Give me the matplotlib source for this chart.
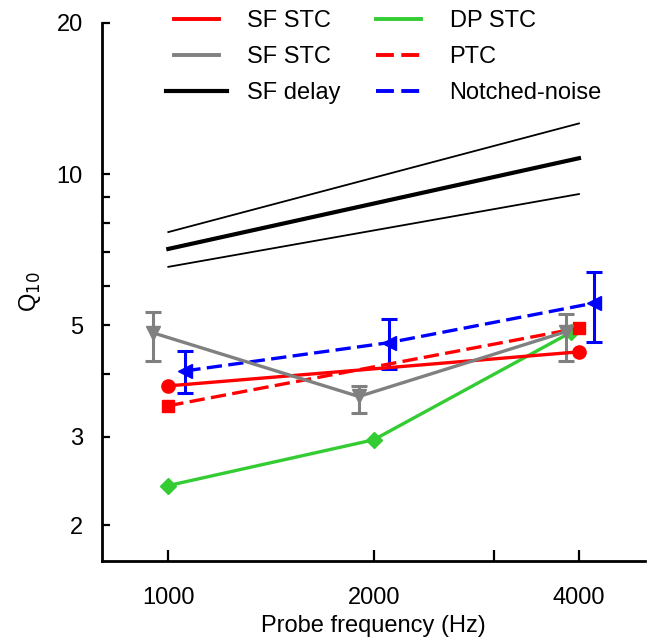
import matplotlib
matplotlib.use("Agg")
import matplotlib.pyplot as plt
from matplotlib.lines import Line2D
from matplotlib.legend_handler import HandlerLine2D
from matplotlib.ticker import FixedLocator, FixedFormatter, NullFormatter

plt.rcParams['font.family'] = ['Liberation Sans', 'DejaVu Sans']
FS = 17

# ---- data ----
sfstc_f = [1000, 4000]
sfstc_q = [3.79, 4.43]

ptc_f = [1000, 4000]
ptc_q = [3.46, 4.94]

gray_f = [951, 1902, 3830]
gray_q = [4.83, 3.61, 4.86]
gray_lo = [4.25, 3.34, 4.25]
gray_hi = [5.32, 3.79, 5.27]

dp_f = [1000, 2000, 3900]
dp_q = [2.40, 2.96, 4.85]

nn_f = [1059, 2104, 4210]
nn_q = [4.06, 4.62, 5.54]
nn_lo = [3.67, 4.10, 4.64]
nn_hi = [4.45, 5.15, 6.39]

delay_f = [1000, 4000]
delay_mid = [7.10, 10.76]
delay_hi = [7.67, 12.62]
delay_lo = [6.54, 9.13]

xticks = [1000, 2000, 3000, 4000]
xticklabels = ['1000', '2000', '', '4000']
yticks_major = [2, 3, 5, 10, 20]
yticks_minor = [4, 6, 7, 8, 9]

RED = '#ff0000'
GRAY = '#808080'
GREEN = '#33cc33'
BLUE = '#0000ff'
DASH = (4.6, 1.9)

fig = plt.figure(figsize=(6.47, 6.38), dpi=100)
ax = fig.add_axes([0.158, 0.121, 0.839, 0.843])

ax.set_xscale('log')
ax.set_yscale('log')

# SF delay
ax.plot(delay_f, delay_hi, color='black', lw=1.3)
ax.plot(delay_f, delay_lo, color='black', lw=1.3)
ax.plot(delay_f, delay_mid, color='black', lw=3.0)

# Notched noise
nn_err = [[q - l for q, l in zip(nn_q, nn_lo)], [h - q for q, h in zip(nn_q, nn_hi)]]
ax.errorbar(nn_f, nn_q, yerr=nn_err, color=BLUE, lw=2.4, dashes=DASH,
            marker='<', ms=9.5, elinewidth=2.2, capsize=6, capthick=2.2)

# gray SF STC
g_err = [[q - l for q, l in zip(gray_q, gray_lo)], [h - q for q, h in zip(gray_q, gray_hi)]]
ax.errorbar(gray_f, gray_q, yerr=g_err, color=GRAY, lw=2.4, marker='v', ms=10,
            elinewidth=2.2, capsize=6, capthick=2.2)

# DP STC
ax.plot(dp_f, dp_q, color=GREEN, lw=2.4, marker='D', ms=8)

# PTC
ax.plot(ptc_f, ptc_q, color=RED, lw=2.4, dashes=DASH, marker='s', ms=9)

# SF STC red
ax.plot(sfstc_f, sfstc_q, color=RED, lw=2.4, marker='o', ms=9.5)

ax.set_xlim(800, 5000)
ax.set_ylim(1.7, 20)

ax.xaxis.set_major_locator(FixedLocator(xticks))
ax.xaxis.set_major_formatter(FixedFormatter(xticklabels))
ax.xaxis.set_minor_locator(FixedLocator([]))
ax.yaxis.set_major_locator(FixedLocator(yticks_major))
ax.yaxis.set_major_formatter(FixedFormatter([str(v) for v in yticks_major]))
ax.yaxis.set_minor_locator(FixedLocator(yticks_minor))
ax.yaxis.set_minor_formatter(NullFormatter())

for s in ['top', 'right']:
    ax.spines[s].set_visible(False)
for s in ['left', 'bottom']:
    ax.spines[s].set_linewidth(2.0)

ax.tick_params(axis='x', which='major', direction='in', length=8, width=1.6,
               labelsize=FS, pad=19)
ax.tick_params(axis='y', which='both', direction='in', length=5.5, width=1.6,
               labelsize=FS, pad=14)

ax.set_xlabel('Probe frequency (Hz)', fontsize=FS, labelpad=4)
ax.set_ylabel('Q$_{10}$', fontsize=FS, labelpad=10)


class ExtendedLine(HandlerLine2D):
    def create_artists(self, legend, orig_handle, xdescent, ydescent, width,
                       height, fontsize, trans):
        arts = super().create_artists(legend, orig_handle, xdescent, ydescent,
                                      width, height, fontsize, trans)
        for a in arts:
            xd = list(a.get_xdata())
            if len(xd) >= 2:
                xd[0] -= 6
                xd[-1] += 6
                a.set_xdata(xd)
        return arts


handles = [
    Line2D([], [], color=RED, lw=2.8),
    Line2D([], [], color=GRAY, lw=2.8),
    Line2D([], [], color='black', lw=3.0),
    Line2D([], [], color=GREEN, lw=2.8),
    Line2D([], [], color=RED, lw=2.8, dashes=DASH),
    Line2D([], [], color=BLUE, lw=2.8, dashes=DASH),
]
labels = ['SF STC', 'SF STC', 'SF delay', 'DP STC', 'PTC', 'Notched-noise']
leg = ax.legend(handles, labels, ncol=2, frameon=False, fontsize=FS,
                loc='upper left', bbox_to_anchor=(0.111, 1.046),
                handlelength=1.9, handletextpad=1.2, columnspacing=1.5,
                labelspacing=0.6, borderpad=0,
                handler_map={handles[2]: ExtendedLine()})

fig.savefig('out.png', dpi=100)
